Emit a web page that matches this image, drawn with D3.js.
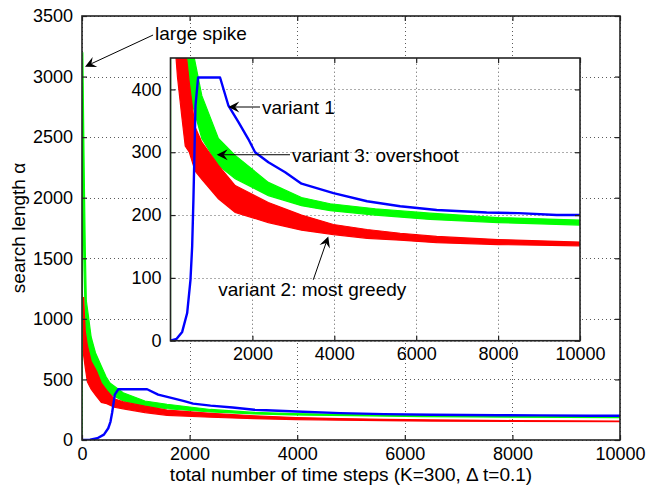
<!DOCTYPE html>
<html>
<head>
<meta charset="utf-8">
<script src="https://cdn.jsdelivr.net/npm/d3@7"></script>
<style>
  body { margin: 0; background: #fff; }
  svg { font-family: "Liberation Sans", Arial, sans-serif; }
  .tick text { fill: #000; }
</style>
</head>
<body>
<svg id="chart" width="660" height="485"></svg>
<script>
// values (time step, search length)
var blueSteps = [0, 40, 150, 285, 407, 488, 529, 560, 585, 610, 675, 1210, 1415, 1660, 1900, 2065, 2390, 2800, 3200, 3980, 4800, 5610, 6500, 7720, 8500, 9430, 10000];
var blueValues = [0, 1, 3, 14, 44, 97, 150, 225, 300, 374, 419, 419, 374, 348, 321, 300, 284, 268, 250, 235, 222, 214, 208, 204, 203, 200, 200];

// noisy series drawn as the band they cover: lower and upper edge
var greenSteps = [0, 15, 40, 60, 80, 120, 170, 250, 350, 450, 520, 765, 1170, 1580, 2390, 3200, 3900, 5000, 6340, 8000, 10000];
var greenLow  = [0, 2200, 1400, 1000, 800, 650, 560, 480, 420, 390, 380, 322, 279, 258, 231, 215, 207, 200, 193, 188, 184];
var greenHigh = [0, 3200, 2250, 1600, 1150, 1020, 850, 720, 620, 520, 470, 390, 322, 295, 252, 228, 218, 210, 203, 196, 192];

var redSteps = [30, 60, 100, 170, 270, 360, 460, 600, 765, 1170, 1580, 2390, 3200, 3980, 4800, 5610, 6500, 8000, 10000];
var redLow  = [700, 600, 480, 420, 360, 310, 300, 270, 257, 226, 204, 188, 176, 169, 163, 160, 156, 153, 151];
var redHigh = [1180, 900, 780, 650, 570, 470, 410, 340, 316, 279, 247, 220, 200, 185, 177, 171, 166, 161, 157];

var mainXTicks = [0, 2000, 4000, 6000, 8000, 10000];
var mainYTicks = [0, 500, 1000, 1500, 2000, 2500, 3000, 3500];
var insetXTicks = [2000, 4000, 6000, 8000, 10000];
var insetYTicks = [0, 100, 200, 300, 400];

var svg = d3.select("#chart");

var x = d3.scaleLinear().domain([0, 10000]).range([82, 620]);
var y = d3.scaleLinear().domain([0, 3500]).range([440, 16]);
var xi = d3.scaleLinear().domain([0, 10000]).range([170.5, 580]);
var yi = d3.scaleLinear().domain([0, 450]).range([340.7, 58]);

function band(steps, lo, hi) {
    return steps.map(function(s, i) { return {s: s, lo: lo[i], hi: hi[i]}; });
}
var blue = blueSteps.map(function(s, i) { return {s: s, v: blueValues[i]}; });
var green = band(greenSteps, greenLow, greenHigh);
var red = band(redSteps, redLow, redHigh);

svg.append("defs").selectAll("clipPath")
    .data([["clipMain", x, y], ["clipInset", xi, yi]])
    .enter().append("clipPath")
    .attr("id", function(d) { return d[0]; })
    .append("rect")
    .attr("x", function(d) { return d[1].range()[0]; })
    .attr("y", function(d) { return d[2].range()[1]; })
    .attr("width", function(d) { return d[1].range()[1] - d[1].range()[0]; })
    .attr("height", function(d) { return d[2].range()[0] - d[2].range()[1]; });

function drawPanel(sx, sy, xt, yt, clip) {
    var g = svg.append("g");
    var x0 = sx.range()[0], x1 = sx.range()[1];
    var y0 = sy.range()[0], y1 = sy.range()[1];

    g.append("rect")
        .attr("x", x0).attr("y", y1)
        .attr("width", x1 - x0).attr("height", y0 - y1)
        .attr("fill", "#fff");

    // dotted grid
    var grid = g.append("g")
        .attr("stroke", "#5a5a5a").attr("stroke-width", 1)
        .attr("stroke-dasharray", "1,3");
    grid.selectAll(".gx").data(xt).enter().append("line")
        .attr("x1", function(d) { return Math.round(sx(d)) + 0.5; })
        .attr("x2", function(d) { return Math.round(sx(d)) + 0.5; })
        .attr("y1", y0).attr("y2", y1);
    grid.selectAll(".gy").data(yt).enter().append("line")
        .attr("y1", function(d) { return Math.round(sy(d)) + 0.5; })
        .attr("y2", function(d) { return Math.round(sy(d)) + 0.5; })
        .attr("x1", x0).attr("x2", x1);

    var data = g.append("g").attr("clip-path", "url(#" + clip + ")");

    var area = d3.area()
        .x(function(d) { return sx(d.s); })
        .y0(function(d) { return sy(d.lo); })
        .y1(function(d) { return sy(d.hi); });

    data.append("path").datum(green)
        .attr("d", area)
        .attr("fill", "#00ff00").attr("stroke", "#00ff00").attr("stroke-width", 1.2);
    data.append("path").datum(red)
        .attr("d", area)
        .attr("fill", "#ff0000").attr("stroke", "#ff0000").attr("stroke-width", 1.2);
    data.append("path").datum(blue)
        .attr("d", d3.line()
            .x(function(d) { return sx(d.s); })
            .y(function(d) { return sy(d.v); }))
        .attr("fill", "none").attr("stroke", "#0000ff").attr("stroke-width", 2.4)
        .attr("stroke-linejoin", "round");

    // box with inward ticks on every side
    var fmt = d3.format("d");
    var axes = [
        [d3.axisBottom(sx).tickValues(xt).tickFormat(fmt).tickPadding(7), "translate(0," + y0 + ")"],
        [d3.axisTop(sx).tickValues(xt).tickFormat(""), "translate(0," + y1 + ")"],
        [d3.axisLeft(sy).tickValues(yt).tickFormat(fmt).tickPadding(9), "translate(" + x0 + ",0)"],
        [d3.axisRight(sy).tickValues(yt).tickFormat(""), "translate(" + x1 + ",0)"]
    ];
    axes.forEach(function(a) {
        var ax = g.append("g")
            .attr("transform", a[1])
            .call(a[0].tickSizeInner(-5).tickSizeOuter(0));
        ax.select(".domain").remove();
        ax.selectAll(".tick line").attr("stroke", "#222").attr("stroke-width", 1.2);
        ax.selectAll(".tick text").attr("font-size", 18);
    });

    g.append("rect")
        .attr("x", x0).attr("y", y1)
        .attr("width", x1 - x0).attr("height", y0 - y1)
        .attr("fill", "none").attr("stroke", "#222").attr("stroke-width", 1.6);
    return g;
}

drawPanel(x, y, mainXTicks, mainYTicks, "clipMain");
drawPanel(xi, yi, insetXTicks, insetYTicks, "clipInset");

// axis labels
svg.append("text")
    .attr("x", (x.range()[0] + x.range()[1]) / 2)
    .attr("y", 481)
    .attr("text-anchor", "middle")
    .attr("font-size", 19)
    .text("total number of time steps (K=300, \u0394 t=0.1)");

svg.append("text")
    .attr("transform", "translate(25," + (y.range()[0] + y.range()[1]) / 2 + ") rotate(-90)")
    .attr("text-anchor", "middle")
    .attr("font-size", 19)
    .text("search length \u03b1");

// annotations in data units of the panel they point into
var notes = [
    {label: "large spike", text: [1358, 3302], tail: [1321, 3343], tip: [56, 3082], sx: x, sy: y},
    {label: "variant 1", text: [2234, 361], tail: [2186, 372], tip: [1411, 372], sx: xi, sy: yi},
    {label: "variant 3: overshoot", text: [2967, 284], tail: [2918, 296], tip: [1128, 296], sx: xi, sy: yi},
    {label: "variant 2: most greedy", text: [1167, 71], tail: [3487, 97], tip: [3853, 166], sx: xi, sy: yi}
];

var noteG = svg.append("g");
notes.forEach(function(n) {
    var tx = n.sx(n.tail[0]), ty = n.sy(n.tail[1]);
    var px = n.sx(n.tip[0]), py = n.sy(n.tip[1]);
    var ang = Math.atan2(py - ty, px - tx);
    var len = 11, wid = 5.5, notch = 7;
    function pt(a, b) {
        return [px - a * Math.cos(ang) + b * Math.sin(ang), py - a * Math.sin(ang) - b * Math.cos(ang)];
    }
    noteG.append("line")
        .attr("x1", tx).attr("y1", ty)
        .attr("x2", pt(notch, 0)[0]).attr("y2", pt(notch, 0)[1])
        .attr("stroke", "#000").attr("stroke-width", 1);
    noteG.append("path")
        .attr("d", d3.line()([[px, py], pt(len, wid), pt(notch, 0), pt(len, -wid)]) + "Z")
        .attr("fill", "#000");
    noteG.append("text")
        .attr("x", n.sx(n.text[0])).attr("y", n.sy(n.text[1]))
        .attr("font-size", 19)
        .text(n.label);
});
</script>
</body>
</html>
